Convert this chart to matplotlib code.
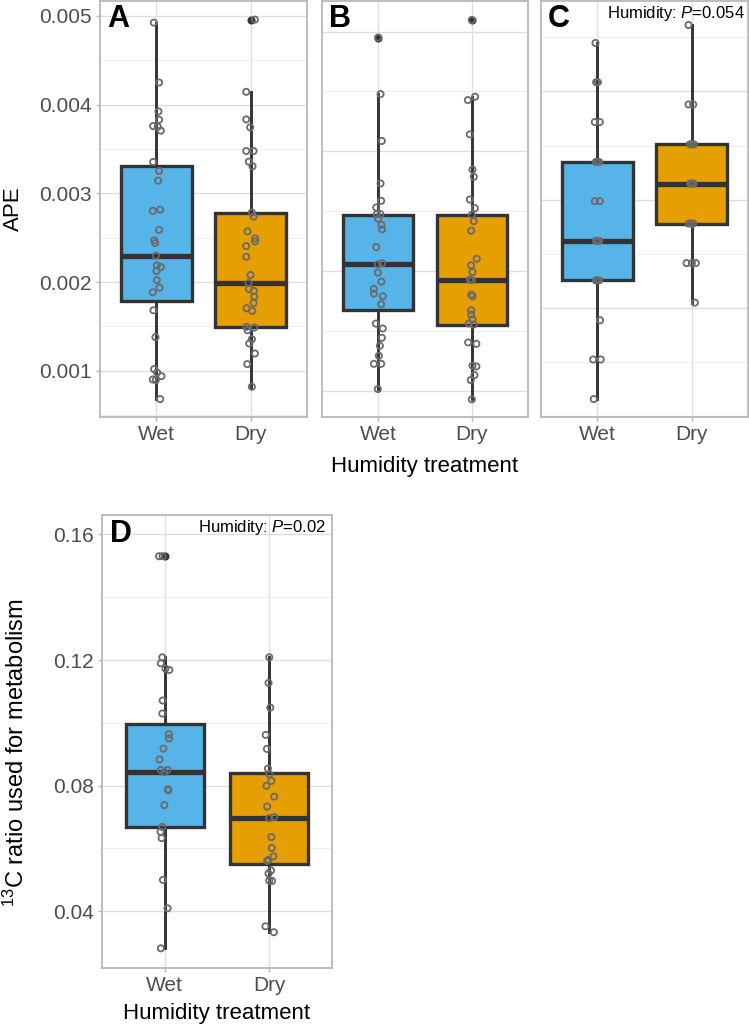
import numpy as np
import matplotlib
matplotlib.use("Agg")
import matplotlib.pyplot as plt
from matplotlib.ticker import MultipleLocator, NullLocator

plt.rcParams['font.family'] = ['Liberation Sans', 'DejaVu Sans']
plt.rcParams['mathtext.fontset'] = 'custom'
plt.rcParams['mathtext.rm'] = 'Liberation Sans'
plt.rcParams['mathtext.it'] = 'Liberation Sans:italic'

groups = ['Wet', 'Dry']
colors = ['#56B4E9', '#E69F00']

# box stats: whislo, q1, median, q3, whishi
a_wet_box = [0.000681, 0.001783, 0.002297, 0.003306, 0.004925]
a_dry_box = [0.00082, 0.001495, 0.00199, 0.002784, 0.004138]
a_wet_out = []
a_dry_out = [0.004959]
a_wet = [0.004925, 0.00425, 0.003924, 0.00383, 0.003759, 0.003752, 0.003707, 0.003354, 0.003253,
         0.003144, 0.002803, 0.002818, 0.002589, 0.00247, 0.00244, 0.002297, 0.002188, 0.00217,
         0.002125, 0.002023, 0.001937, 0.001885, 0.001682, 0.001379, 0.001019, 0.000981, 0.00094,
         0.000902, 0.000895, 0.000681]
a_wet_dx = [-0.028, 0.028, 0.021, 0.028, -0.035, 0.014, 0.046, -0.035, 0.028, 0.018, -0.039, 0.039,
            0.028, -0.025, -0.014, -0.007, 0.004, 0.046, 0.0, 0.004, 0.032, -0.039, -0.032, -0.011,
            -0.025, 0.007, 0.053, -0.039, -0.007, 0.039]
a_dry = [0.004959, 0.004145, 0.003834, 0.003744, 0.003478, 0.003478, 0.003358, 0.003306, 0.002784,
         0.002739, 0.002571, 0.002492, 0.002458, 0.002406, 0.002286, 0.00208, 0.00199, 0.001922,
         0.0019, 0.001836, 0.001765, 0.001705, 0.001675, 0.001495, 0.001487, 0.001457, 0.001356,
         0.001307, 0.001195, 0.001075, 0.00082]
a_dry_dx = [0.046, -0.046, -0.046, -0.004, -0.046, 0.032, -0.018, 0.021, 0.014, 0.032, -0.032, 0.049,
            0.049, -0.046, -0.046, 0.0, -0.021, -0.018, 0.035, 0.039, 0.032, -0.042, 0.018, -0.042,
            0.039, -0.032, 0.014, -0.014, 0.046, -0.035, 0.014]

b_wet_box = [0.001016, 0.001674, 0.002063, 0.002471, 0.003478]
b_dry_box = [0.00093, 0.001555, 0.00193, 0.002471, 0.003456]
b_wet_out = [0.00395]
b_dry_out = [0.004097]
b_wet = [0.00395, 0.003478, 0.003087, 0.002732, 0.002587, 0.002532, 0.002476, 0.002476, 0.002437,
         0.002387, 0.002349, 0.002201, 0.002066, 0.002057, 0.001988, 0.001913, 0.001852, 0.001813,
         0.001791, 0.001724, 0.001563, 0.001522, 0.001444, 0.001377, 0.001294, 0.001227, 0.001227,
         0.001016]
b_wet_dx = [0.0, 0.025, 0.039, 0.025, 0.032, -0.021, -0.014, 0.025, 0.0, 0.035, 0.042, -0.021, 0.042,
            -0.004, -0.004, 0.035, -0.046, -0.046, 0.049, 0.032, -0.025, 0.049, 0.039, 0.018, 0.007,
            -0.046, 0.032, -0.004]
b_dry = [0.004097, 0.003456, 0.003428, 0.003142, 0.002848, 0.002787, 0.002598, 0.002526, 0.002471,
         0.002418, 0.002338, 0.002104, 0.002049, 0.001993, 0.00193, 0.001924, 0.001805, 0.001791,
         0.001674, 0.001638, 0.001599, 0.001563, 0.001555, 0.001405, 0.001394, 0.001211, 0.001205,
         0.001133, 0.001091, 0.00093]
b_dry_dx = [0.0, 0.035, -0.042, -0.021, 0.007, 0.021, -0.021, 0.032, 0.0, 0.021, -0.007, 0.053, -0.007,
            0.007, -0.021, 0.0, -0.007, 0.007, -0.007, -0.007, 0.007, -0.032, 0.021, -0.039, 0.049,
            0.007, 0.049, 0.028, -0.011, 0.0]

c_wet_box = [0.154, 1.252, 1.618, 2.348, 3.449]
c_dry_box = [1.046, 1.778, 2.148, 2.511, 3.615]
c_wet_out = []
c_dry_out = []
c_wet = [3.449, 3.086, 3.086, 2.717, 2.717, 2.348, 2.348, 2.348, 1.985, 1.985, 1.618, 1.618, 1.618,
         1.252, 1.252, 1.252, 0.883, 0.52, 0.52, 0.154]
c_wet_dx = [-0.021, -0.014, 0.004, -0.028, 0.025, -0.018, 0.0, 0.018, -0.028, 0.025, -0.018, 0.0, 0.018,
            -0.018, 0.0, 0.018, 0.028, -0.046, 0.035, -0.039]
c_dry = [3.615, 2.88, 2.88, 2.511, 2.511, 2.511, 2.148, 2.148, 2.148, 1.778, 1.778, 1.778, 1.412,
         1.412, 1.412, 1.046]
c_dry_dx = [-0.032, -0.032, 0.018, -0.018, 0.007, 0.025, -0.014, 0.004, 0.021, -0.032, -0.007, 0.018,
            -0.053, 0.004, 0.046, 0.035]

d_wet_box = [0.02816, 0.06685, 0.08418, 0.09973, 0.12086]
d_dry_box = [0.0333, 0.05489, 0.06976, 0.08407, 0.12086]
d_wet_out = [0.15307]
d_dry_out = []
d_wet = [0.15307, 0.15307, 0.12086, 0.11896, 0.11728, 0.11684, 0.10711, 0.10297, 0.09637, 0.09503,
         0.09179, 0.08832, 0.08497, 0.08497, 0.0843, 0.07882, 0.07848, 0.07378, 0.06685, 0.06529,
         0.06327, 0.04997, 0.04091, 0.02816]
d_wet_dx = [-0.054, -0.020, -0.023, -0.037, 0.007, 0.044, -0.020, -0.023, 0.040, 0.040, -0.013, -0.050,
            -0.037, 0.027, -0.003, 0.030, 0.034, -0.003, -0.023, -0.040, -0.030, -0.017, 0.027, -0.037]
d_dry = [0.12086, 0.1127, 0.10487, 0.09615, 0.09168, 0.08542, 0.08362, 0.0815, 0.07993, 0.07647,
         0.07334, 0.06965, 0.06998, 0.06361, 0.06014, 0.05746, 0.056, 0.05634, 0.05298, 0.05198,
         0.04974, 0.04963, 0.0352, 0.0333]
d_dry_dx = [0.0, -0.007, 0.010, -0.034, -0.023, -0.013, 0.0, 0.020, -0.027, 0.047, -0.020, 0.0, 0.047,
            0.020, 0.023, 0.040, -0.020, -0.007, 0.017, -0.007, 0.0, 0.027, -0.037, 0.044]

W, H = 749, 1031
fig = plt.figure(figsize=(W / 100, H / 100), dpi=100)


def px_axes(x0, x1, y0, y1):
    return fig.add_axes([x0 / W, 1 - y1 / H, (x1 - x0) / W, (y1 - y0) / H])


def draw_panel(ax, boxes, outs, pts, dxs, ylim, major, minor, show_y, letter, ptext=None,
               ptext_x=0.99):
    stats = []
    for g, b, o in zip(groups, boxes, outs):
        stats.append(dict(label=g, whislo=b[0], q1=b[1], med=b[2], q3=b[3], whishi=b[4], fliers=o))
    bp = ax.bxp(stats, positions=[1, 2], widths=0.75, patch_artist=True, showcaps=False,
                boxprops=dict(edgecolor='#333333', linewidth=2.4),
                medianprops=dict(color='#333333', linewidth=3.8, solid_capstyle='butt'),
                whiskerprops=dict(color='#333333', linewidth=2.1),
                flierprops=dict(marker='o', markerfacecolor='#333333', markeredgecolor='#333333',
                                markersize=4.8),
                zorder=2)
    for patch, c in zip(bp['boxes'], colors):
        patch.set_facecolor(c)
    for i, (vals, dx) in enumerate(zip(pts, dxs)):
        ax.scatter(np.array(dx) + i + 1, vals, s=20, facecolors='none', edgecolors='#6A6A6A',
                   linewidths=1.3, zorder=4)
    ax.set_xlim(0.4, 2.6)
    ax.set_ylim(*ylim)
    ax.set_xticks([1, 2])
    ax.set_xticklabels(groups)
    ax.xaxis.set_minor_locator(NullLocator())
    ax.yaxis.set_major_locator(MultipleLocator(major))
    ax.yaxis.set_minor_locator(MultipleLocator(minor))
    ax.grid(which='major', color='#DEDEDE', linewidth=1.0, zorder=0)
    ax.grid(which='minor', axis='y', color='#EDEDED', linewidth=0.7, zorder=0)
    ax.set_axisbelow(True)
    for s in ax.spines.values():
        s.set_color('#B8B8B8')
        s.set_linewidth(1.3)
    ax.tick_params(axis='both', which='major', labelsize=15, labelcolor='#4D4D4D',
                   color='#B3B3B3', length=3, width=1, pad=3)
    ax.tick_params(axis='y', which='minor', left=False)
    if not show_y:
        ax.tick_params(axis='y', left=False, labelleft=False)
    ax.text(0.035, 0.992, letter, transform=ax.transAxes, fontsize=22, fontweight='bold',
            va='top', ha='left', zorder=6)
    if ptext:
        ax.text(ptext_x, 0.993, ptext, transform=ax.transAxes, fontsize=12, va='top', ha='right',
                zorder=6)


axA = px_axes(100, 307, 1, 417)
draw_panel(axA, [a_wet_box, a_dry_box], [a_wet_out, a_dry_out], [a_wet, a_dry], [a_wet_dx, a_dry_dx],
           (0.000479, 0.005169), 0.001, 0.0005, True, 'A')
axA.set_yticks([0.001, 0.002, 0.003, 0.004, 0.005])
axA.set_yticklabels(['0.001', '0.002', '0.003', '0.004', '0.005'])

axB = px_axes(322, 528, 1, 417)
draw_panel(axB, [b_wet_box, b_dry_box], [b_wet_out, b_dry_out], [b_wet, b_dry], [b_wet_dx, b_dry_dx],
           (0.000783, 0.004255), 0.001, 0.0005, False, 'B')

axC = px_axes(541, 748, 1, 417)
draw_panel(axC, [c_wet_box, c_dry_box], [c_wet_out, c_dry_out], [c_wet, c_dry], [c_wet_dx, c_dry_dx],
           (-0.012, 3.837), 1.0, 0.5, False, 'C', r'Humidity: $\it{P}$=0.054', 0.985)

axD = px_axes(102, 332, 515, 968)
draw_panel(axD, [d_wet_box, d_dry_box], [d_wet_out, d_dry_out], [d_wet, d_dry], [d_wet_dx, d_dry_dx],
           (0.0219, 0.1662), 0.04, 0.02, True, 'D', r'Humidity: $\it{P}$=0.02', 0.975)
axD.set_yticks([0.04, 0.08, 0.12, 0.16])
axD.set_yticklabels(['0.04', '0.08', '0.12', '0.16'])

fig.text(13 / W, 1 - 209 / H, 'APE', rotation=90, fontsize=16, ha='center', va='center')
fig.text(425 / W, 1 - 466 / H, 'Humidity treatment', fontsize=16, ha='center', va='center')
fig.text(16 / W, 1 - 753 / H, r'$^{13}$C ratio used for metabolism', rotation=90, fontsize=17,
         ha='center', va='center')
fig.text(217 / W, 1 - 1014 / H, 'Humidity treatment', fontsize=16, ha='center', va='center')

fig.savefig('out.png', dpi=100)
